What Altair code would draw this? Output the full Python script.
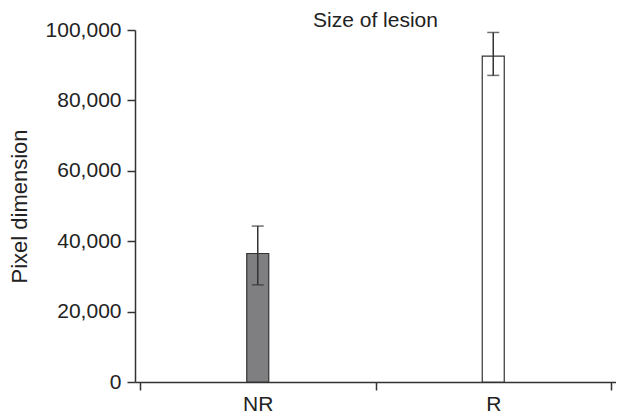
import altair as alt
import pandas as pd

categories = ["NR", "R"]
means = [36500, 92600]
lows = [27600, 87100]
highs = [44300, 99300]
fills = ["#7f7f82", "#ffffff"]
y_ticks = [0, 20000, 40000, 60000, 80000, 100000]

df = pd.DataFrame({
    "cat": categories,
    "pos": [i + 0.5 for i in range(len(categories))],
    "mean": means,
    "lo": lows,
    "hi": highs,
    "fill": fills,
})

FONT = "Liberation Sans"
INK = "#333333"

x_axis = alt.Axis(
    values=[0, 0.5, 1, 1.5, 2],
    labelExpr="datum.value == 0.5 ? 'NR' : (datum.value == 1.5 ? 'R' : '')",
    tickColor={"condition": {"test": "datum.value % 1 != 0", "value": "transparent"}, "value": INK},
    grid=False, title=None, domainColor=INK, domainWidth=1.5, tickWidth=1.5, tickSize=8,
    labelFont=FONT, labelFontSize=21, labelColor="#222222", labelPadding=3, labelAngle=0,
)
y_axis = alt.Axis(
    values=y_ticks, format=",.0f", grid=False, title="Pixel dimension",
    domainColor=INK, domainWidth=1.5, tickColor=INK, tickWidth=1.5, tickSize=8,
    labelFont=FONT, labelFontSize=21, labelColor="#222222", labelPadding=6,
    titleFont=FONT, titleFontSize=22, titleFontWeight="normal", titleColor="#222222", titlePadding=14,
)

x = alt.X("pos:Q", scale=alt.Scale(domain=[0, 2], nice=False, zero=False), axis=x_axis)
yscale = alt.Scale(domain=[0, 100000], nice=False)

bars = alt.Chart(df).mark_bar(size=22, stroke=INK, strokeWidth=1.2).encode(
    x=x,
    y=alt.Y("mean:Q", scale=yscale, axis=y_axis),
    fill=alt.Fill("fill:N", scale=None),
)
rule = alt.Chart(df).mark_rule(color=INK, strokeWidth=1.5).encode(
    x=alt.X("pos:Q"), y=alt.Y("lo:Q"), y2="hi:Q"
)
cap_lo = alt.Chart(df).mark_tick(orient="horizontal", size=12, thickness=1.5, color=INK).encode(
    x=alt.X("pos:Q"), y=alt.Y("lo:Q")
)
cap_hi = alt.Chart(df).mark_tick(orient="horizontal", size=12, thickness=1.5, color=INK).encode(
    x=alt.X("pos:Q"), y=alt.Y("hi:Q")
)

chart = alt.layer(bars, rule, cap_lo, cap_hi).properties(
    width=481, height=352,
    title=alt.TitleParams("Size of lesion", font=FONT, fontSize=21, fontWeight="normal",
                          color="#222222", offset=-12, anchor="middle", frame="group"),
    padding={"left": 0, "top": 2, "right": 0, "bottom": 0},
).configure_view(stroke=None)

chart.save("out.html", embed_options={"renderer": "svg", "actions": False})
